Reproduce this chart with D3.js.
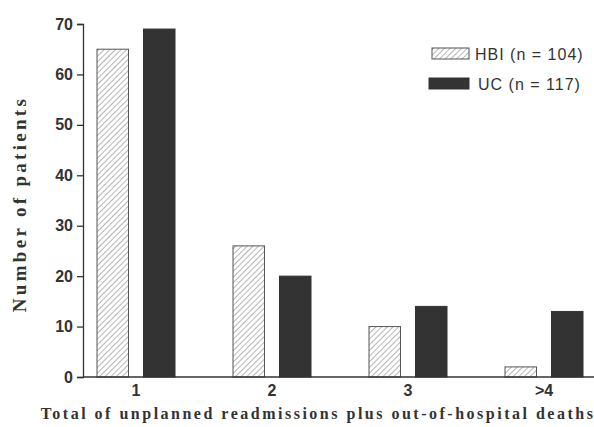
<!DOCTYPE html>
<html>
<head>
<meta charset="utf-8">
<script src="https://cdn.jsdelivr.net/npm/d3@7"></script>
<style>
  html, body { margin: 0; padding: 0; background: #fff; }
  svg { display: block; }
</style>
</head>
<body>
<svg id="chart" width="594" height="427"></svg>
<script>
// Readmission counts per group
const categories = ["1", "2", "3", ">4"];
const seriesNames = ["HBI", "UC"];
const seriesLabels = ["HBI (n = 104)", "UC (n = 117)"];
const hbiValues = [65, 26, 10, 2];
const ucValues = [69, 20, 14, 13];
const yTicks = [0, 10, 20, 30, 40, 50, 60, 70];

const ink = "#333";
const svg = d3.select("#chart");

// Diagonal hatch for the HBI bars
const defs = svg.append("defs");
const pat = defs.append("pattern")
  .attr("id", "hatch")
  .attr("patternUnits", "userSpaceOnUse")
  .attr("width", 4).attr("height", 4)
  .attr("patternTransform", "rotate(45)");
pat.append("rect").attr("width", 4).attr("height", 4).attr("fill", "#fff");
pat.append("line").attr("x1", 0).attr("y1", 0).attr("x2", 0).attr("y2", 4)
  .attr("stroke", "#777").attr("stroke-width", 1.1);

const y = d3.scaleLinear().domain([0, 70]).range([377, 24]);
const x0 = d3.scaleBand().domain(categories).range([68, 612]);
const x1 = d3.scaleBand().domain(seriesNames).range([-39, 39]).paddingInner(0.323);

const fills = { HBI: "url(#hatch)", UC: ink };
const strokes = { HBI: "#555", UC: ink };
const data = categories.map((c, i) => ({ c, HBI: hbiValues[i], UC: ucValues[i] }));

// Bars
const groups = svg.append("g").selectAll("g").data(data).join("g")
  .attr("transform", d => `translate(${x0(d.c) + x0.bandwidth() / 2},0)`);
groups.selectAll("rect")
  .data(d => seriesNames.map(s => ({ s, v: d[s] })))
  .join("rect")
  .attr("x", d => x1(d.s))
  .attr("width", x1.bandwidth())
  .attr("y", d => y(d.v))
  .attr("height", d => y(0) - y(d.v))
  .attr("fill", d => fills[d.s])
  .attr("stroke", d => strokes[d.s])
  .attr("stroke-width", 1);

// Y axis
const yAxis = svg.append("g")
  .attr("transform", "translate(83,0)")
  .call(d3.axisLeft(y).tickValues(yTicks).tickSize(6).tickPadding(4));
yAxis.select(".domain").attr("stroke", ink).attr("stroke-width", 1.3);
yAxis.selectAll(".tick line").attr("stroke", ink).attr("stroke-width", 1.3);
yAxis.selectAll(".tick text")
  .attr("fill", ink)
  .style("font-family", "'Liberation Sans', Arial, sans-serif")
  .style("font-weight", "bold")
  .style("font-size", "16px");

// X axis baseline and category labels
svg.append("line")
  .attr("x1", 83).attr("x2", 594)
  .attr("y1", y(0)).attr("y2", y(0))
  .attr("stroke", ink).attr("stroke-width", 1.3);
const xAxis = svg.append("g")
  .attr("transform", `translate(0,${y(0)})`)
  .call(d3.axisBottom(x0).tickSize(0).tickPadding(8));
xAxis.select(".domain").remove();
xAxis.selectAll(".tick text")
  .attr("fill", ink)
  .style("font-family", "'Liberation Sans', Arial, sans-serif")
  .style("font-weight", "bold")
  .style("font-size", "16px");

// Axis titles
svg.append("text")
  .attr("x", 318).attr("y", 419)
  .attr("text-anchor", "middle")
  .attr("fill", ink)
  .style("font-family", "'Liberation Serif', 'Times New Roman', serif")
  .style("font-weight", "bold")
  .style("font-size", "16px")
  .style("letter-spacing", "2.5px")
  .text("Total of unplanned readmissions plus out-of-hospital deaths");

svg.append("text")
  .attr("transform", "translate(26,204) rotate(-90)")
  .attr("text-anchor", "middle")
  .attr("fill", ink)
  .style("font-family", "'Liberation Serif', 'Times New Roman', serif")
  .style("font-weight", "bold")
  .style("font-size", "19px")
  .style("letter-spacing", "3.3px")
  .text("Number of patients");

// Legend
const legend = svg.append("g");
seriesNames.forEach((s, i) => {
  const ly = 48 + i * 30;
  legend.append("rect")
    .attr("x", i === 0 ? 432 : 429).attr("y", ly)
    .attr("width", i === 0 ? 37 : 40).attr("height", 11)
    .attr("fill", fills[s]).attr("stroke", strokes[s]).attr("stroke-width", 1);
  legend.append("text")
    .attr("x", i === 0 ? 475 : 478).attr("y", ly + 12)
    .attr("fill", ink)
    .style("font-family", "'Liberation Sans', Arial, sans-serif")
    .style("font-size", "16px")
    .style("letter-spacing", "1px")
    .text(seriesLabels[i]);
});
</script>
</body>
</html>
